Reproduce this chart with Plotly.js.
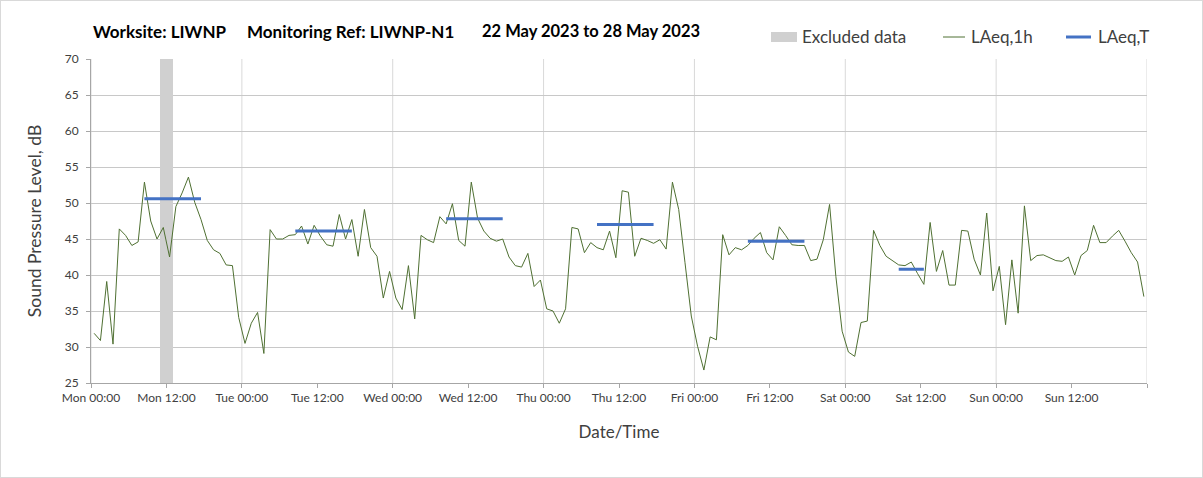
<!DOCTYPE html>
<html>
<head>
<meta charset="utf-8">
<script src="https://cdn.plot.ly/plotly-3.0.1.min.js"></script>
<style>
html,body{margin:0;padding:0;background:#fff;}
#wrap{position:relative;width:1203px;height:478px;}
#chart{width:1203px;height:478px;}
#frame{position:absolute;left:0;top:0;width:1201px;height:476px;border:1px solid #d9d9d9;pointer-events:none;}
</style>
</head>
<body>
<div id="wrap"><div id="chart"></div><div id="frame"></div></div>
<script>
// Hourly LAeq,1h values, Mon 00:00 .. Sun 23:00 (22-28 May 2023)
const hourlyLAeq = [
  31.9,30.9,39.1,30.4,46.4,45.5,44.1,44.6,52.9,47.5,45.0,46.6,42.5,49.5,51.4,53.6,50.1,47.7,44.8,43.5,43.0,41.4,41.3,34.1,
  30.5,33.3,34.8,29.1,46.3,45.0,45.0,45.5,45.6,46.8,44.3,46.9,45.4,44.2,44.0,48.4,45.0,47.7,42.6,49.1,43.8,42.6,36.8,40.5,
  36.8,35.2,41.3,33.9,45.5,44.9,44.5,48.1,47.1,49.9,44.8,44.0,52.9,47.9,46.1,45.1,44.7,45.0,42.5,41.3,41.1,43.0,38.4,39.3,
  35.3,35.0,33.3,35.3,46.6,46.4,43.1,44.5,43.8,43.5,46.1,42.4,51.7,51.5,42.6,45.1,44.8,44.4,44.9,43.6,52.9,49.1,41.7,34.3,
  30.1,26.8,31.4,31.0,45.6,42.8,43.8,43.5,44.1,45.1,45.9,43.1,42.1,46.7,45.5,44.2,44.1,44.1,42.0,42.2,44.9,49.8,39.8,32.2,
  29.3,28.7,33.4,33.6,46.2,44.1,42.6,42.0,41.4,41.3,41.8,40.2,38.7,47.3,40.5,43.4,38.6,38.6,46.2,46.1,42.2,40.0,48.6,37.8,
  41.2,33.1,42.1,34.7,49.6,42.0,42.7,42.8,42.4,42.0,41.9,42.5,40.0,42.7,43.4,46.9,44.5,44.5,45.4,46.2,44.7,43.1,41.8,37.0
];
// Excluded hours (hour index from Mon 00:00)
const excludedHours = [11, 12];
// LAeq,T assessment periods (first and last hour index) and levels
const periodStartHour = [8, 32, 56, 80, 104, 128];
const periodEndHour   = [17, 41, 65, 89, 113, 132];
const periodLAeqT     = [50.6, 46.1, 47.8, 47.0, 44.7, 40.8];
// Axis labels
const tickLabels = ['Mon 00:00','Mon 12:00','Tue 00:00','Tue 12:00','Wed 00:00','Wed 12:00','Thu 00:00',
                    'Thu 12:00','Fri 00:00','Fri 12:00','Sat 00:00','Sat 12:00','Sun 00:00','Sun 12:00',''];
const dayBoundaries = [0, 24, 48, 72, 96, 120, 144, 168];
const seriesNames = ['Excluded data', 'LAeq,1h', 'LAeq,T'];
const titleParts = ['Worksite: LIWNP', 'Monitoring Ref: LIWNP-N1', '22 May 2023 to 28 May 2023'];
const yMin = 25, yMax = 70;

const FONT = 'Lato, "Open Sans", sans-serif';
const GREEN = '#4f7032', BLUE = '#4472c4', GREY = '#d0d0d0';

// layout geometry (pixels) -> paper coordinates
const M = {l: 91, r: 56, t: 59, b: 95}, W = 1203, H = 478;
const PW = W - M.l - M.r, PH = H - M.t - M.b;
const px = v => (v - M.l) / PW;
const py = v => (H - M.b - v) / PH;

const hourX = hourlyLAeq.map((v, i) => i + 0.5);

const tX = [], tY = [];
periodStartHour.forEach((s, i) => {
  tX.push(s + 0.5, periodEndHour[i] + 0.5, null);
  tY.push(periodLAeqT[i], periodLAeqT[i], null);
});

const traces = [
  {
    type: 'bar', name: seriesNames[0],
    x: excludedHours.map(h => h + 0.5), y: excludedHours.map(() => yMax),
    width: 1, marker: {color: GREY, line: {width: 0}},
    hoverinfo: 'skip'
  },
  {
    type: 'scatter', mode: 'lines', name: seriesNames[1],
    x: hourX, y: hourlyLAeq,
    line: {color: GREEN, width: 1}
  },
  {
    type: 'scatter', mode: 'lines', name: seriesNames[2],
    x: tX, y: tY, connectgaps: false,
    line: {color: BLUE, width: 3}
  }
];

const shapes = dayBoundaries.map(d => ({
  type: 'line', xref: 'x', yref: 'paper', x0: d, x1: d, y0: 0, y1: 1,
  line: {color: '#d9d9d9', width: 1}, layer: 'below'
}));

// legend keys (drawn as shapes to match the original layout)
const legY = 37;
shapes.push(
  {type: 'rect', xref: 'paper', yref: 'paper', x0: px(771), x1: px(797), y0: py(42), y1: py(32),
   fillcolor: GREY, line: {width: 0}},
  {type: 'line', xref: 'paper', yref: 'paper', x0: px(943), x1: px(965), y0: py(legY), y1: py(legY),
   line: {color: GREEN, width: 1}},
  {type: 'line', xref: 'paper', yref: 'paper', x0: px(1066), x1: px(1091), y0: py(legY), y1: py(legY),
   line: {color: BLUE, width: 3}}
);

const legendTextX = [800, 969, 1096];
const titleX = [91, 245, 480];
const titleSize = [17, 17, 16.5];

const annotations = [];
titleParts.forEach((t, i) => annotations.push({
  text: '<b>' + t + '</b>', x: px(titleX[i]), xanchor: 'left',
  y: py(31), yanchor: 'middle', xref: 'paper', yref: 'paper', showarrow: false,
  font: {family: FONT, size: titleSize[i], color: '#000000'}
}));
seriesNames.forEach((n, i) => annotations.push({
  text: n, x: px(legendTextX[i]), xanchor: 'left',
  y: py(legY), yanchor: 'middle', xref: 'paper', yref: 'paper', showarrow: false,
  font: {family: FONT, size: 17, color: '#404040'}
}));

const layout = {
  width: W, height: H,
  margin: M,
  paper_bgcolor: '#ffffff', plot_bgcolor: '#ffffff',
  font: {family: FONT, color: '#404040'},
  showlegend: false,
  bargap: 0,
  xaxis: {
    range: [0, 168], tickmode: 'array',
    tickvals: tickLabels.map((l, i) => i * 12), ticktext: tickLabels,
    showgrid: false, zeroline: false,
    showline: true, linecolor: '#a6a6a6', linewidth: 1,
    ticks: 'outside', ticklen: 4, tickcolor: '#a6a6a6',
    tickfont: {family: FONT, size: 12, color: '#404040'},
    title: {text: 'Date/Time', font: {family: FONT, size: 17, color: '#404040'}, standoff: 21},
    fixedrange: true
  },
  yaxis: {
    range: [yMin, yMax], dtick: 5, tick0: 25,
    showgrid: true, gridcolor: '#c8c8c8', gridwidth: 1, zeroline: false,
    showline: true, linecolor: '#a6a6a6', linewidth: 1,
    ticks: 'outside', ticklen: 4, tickcolor: '#a6a6a6',
    tickfont: {family: FONT, size: 12, color: '#404040'},
    ticklabelstandoff: 5,
    title: {text: 'Sound Pressure Level, dB', font: {family: FONT, size: 17.5, color: '#404040'}, standoff: 18},
    fixedrange: true
  },
  shapes: shapes,
  annotations: annotations
};

Plotly.newPlot('chart', traces, layout, {displayModeBar: false, staticPlot: true});
</script>
</body>
</html>
